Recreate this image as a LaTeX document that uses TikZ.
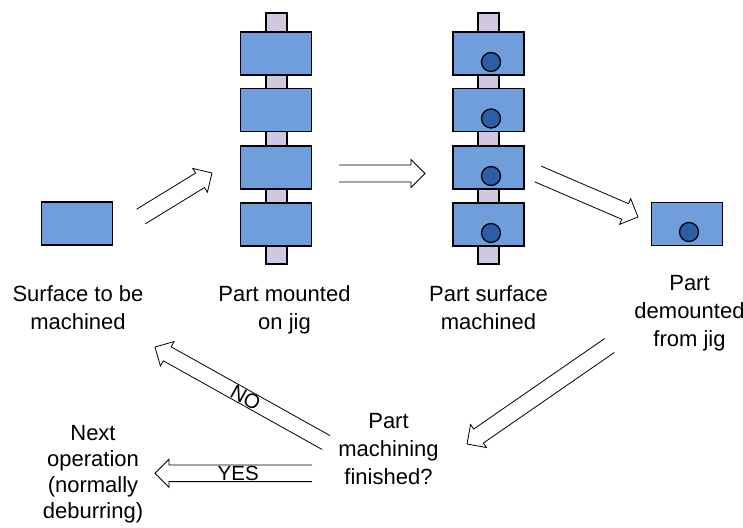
\documentclass[tikz,border=0pt]{standalone}
\usepackage{fontspec}
\setmainfont{Liberation Sans}
\usetikzlibrary{calc}

\definecolor{partblue}{RGB}{112,158,221}
\definecolor{spotblue}{RGB}{44,94,168}
\definecolor{rodlilac}{RGB}{208,200,225}

\tikzset{
  part/.style={draw=black, line width=1.5pt, fill=partblue,
    minimum width=71pt, minimum height=43pt, inner sep=0pt, outer sep=0pt},
  rod/.style={draw=black, line width=1.5pt, fill=rodlilac,
    minimum width=21pt, minimum height=251pt, inner sep=0pt, outer sep=0pt},
  spot/.style={circle, draw=black, line width=1.3pt, fill=spotblue,
    minimum size=19pt, inner sep=0pt},
  caption/.style={align=center, anchor=north, inner sep=0pt,
    font=\fontsize{22}{28}\selectfont},
  tag/.style={inner sep=0pt, font=\fontsize{20.5}{24}\selectfont},
  flow/.style={line width=0.8pt, line join=miter},
}

% open outlined block arrow from tail #1 to tip #2
\newcommand\blockarrow[3][8.5pt]{%
  \coordinate (#2-base) at ($(#3)!14pt!(#2)$);
  \draw[flow] ($(#2)!#1!90:(#3)$) -- ($(#2-base)!#1!90:(#3)$)
    -- ($(#2-base)!14pt!90:(#3)$) -- (#3)
    -- ($(#2-base)!14pt!-90:(#3)$) -- ($(#2-base)!#1!-90:(#3)$)
    -- ($(#2)!#1!-90:(#3)$);
}

\begin{document}
\begin{tikzpicture}[x=1pt, y=-1pt]
  \useasboundingbox[fill=white] (0,0) rectangle (743,527);

  % single part before machining
  \node[part] (raw) at (77,223.5) {};

  % parts mounted on the jig
  \node[rod] (rodA) at (276.5,138.5) {};
  \foreach \i/\y in {1/53.5, 2/110, 3/167.5, 4/224.5}
    \node[part] (jigA\i) at (276,\y) {};

  % machined parts on the jig
  \node[rod] (rodB) at (488.5,138.5) {};
  \foreach \i/\y in {1/53.5, 2/110, 3/167.5, 4/224.5} {
    \node[part] (jigB\i) at (488.5,\y) {};
    \node[spot] (spotB\i) at ($(jigB\i.south)+(2.5,-13)$) {};
  }

  % demounted part
  \node[part] (done) at (687,224) {};
  \node[spot] (spotD) at ($(done.south)+(2,-13.5)$) {};

  % captions
  \node[caption] (capRaw) at (78,285) {Surface to be\\machined};
  \node[caption] (capMount) at (284.5,285) {Part mounted\\on jig};
  \node[caption] (capMach) at (488.5,285) {Part surface\\machined};
  \node[caption] (capDemount) at (689.5,275) {Part\\demounted\\from jig};
  \node[caption] (capCheck) at (388.5,413) {Part\\machining\\finished?};
  \node[caption, font=\fontsize{22}{26}\selectfont] (capNext) at (93,425)
    {Next\\operation\\(normally\\deburring)};

  % arrow end points
  \coordinate (a1) at (141,216.5);  \coordinate (a1h) at (212,173);
  \coordinate (a2) at (339,173.5);  \coordinate (a2h) at (425,173.5);
  \coordinate (a3) at (538,174);    \coordinate (a3h) at (638,217);
  \coordinate (a4) at (609.5,345.5);\coordinate (a4h) at (467,444);
  \coordinate (aNo) at (326,442.5); \coordinate (aNoh) at (155,347);
  \coordinate (aYes) at (312,473.3);\coordinate (aYesh) at (155,473.3);

  \blockarrow{a1}{a1h}
  \blockarrow{a2}{a2h}
  \blockarrow{a3}{a3h}
  \blockarrow{a4}{a4h}
  \blockarrow[8pt]{aNo}{aNoh}
  \blockarrow[8.3pt]{aYes}{aYesh}

  \path (aNo) -- node[tag, sloped, pos=0.47] (lblNo) {NO} (aNoh);
  \path (aYes) -- node[tag, pos=0.47] (lblYes) {YES} (aYesh);
\end{tikzpicture}
\end{document}
